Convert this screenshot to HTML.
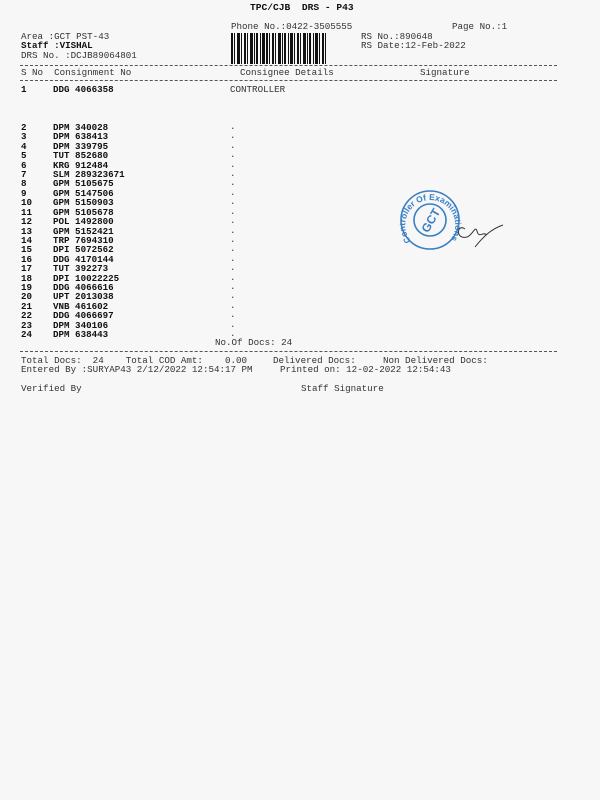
<!DOCTYPE html>
<html><head><meta charset="utf-8"><style>
body{margin:0;background:#fff}
#p{position:relative;width:600px;height:800px;background:#f7f7f7;overflow:hidden;font-family:"Liberation Mono",monospace;font-size:9.2px;color:#333}
.t{position:absolute;white-space:pre;line-height:10px}
.b{font-weight:bold;color:#111}
.d{position:absolute;left:20px;width:537px;border-top:1px dashed #555}
</style></head><body><div id="p">
<div class="t b" style="left:250px;top:3px;font-size:9.6px">TPC/CJB  DRS - P43</div>
<div class="t" style="left:231px;top:22px">Phone No.:0422-3505555</div>
<div class="t" style="left:452px;top:22px">Page No.:1</div>
<div class="t" style="left:21px;top:32px">Area :GCT PST-43</div>
<div class="t b" style="left:21px;top:41px">Staff :VISHAL</div>
<div class="t" style="left:21px;top:51px">DRS No. :DCJB89064801</div>
<div class="t" style="left:361px;top:32px">RS No.:890648</div>
<div class="t" style="left:361px;top:41px">RS Date:12-Feb-2022</div>
<svg style="position:absolute;left:231px;top:33px" width="95" height="31">
<g fill="#111">
<rect x="0" y="0" width="2" height="31"/><rect x="3" y="0" width="1" height="31"/><rect x="6" y="0" width="3" height="31"/><rect x="10" y="0" width="1" height="31"/><rect x="13" y="0" width="2" height="31"/><rect x="16" y="0" width="1" height="31"/><rect x="19" y="0" width="3" height="31"/><rect x="23" y="0" width="1" height="31"/><rect x="25" y="0" width="2" height="31"/><rect x="29" y="0" width="1" height="31"/><rect x="31" y="0" width="3" height="31"/><rect x="35" y="0" width="2" height="31"/><rect x="38" y="0" width="1" height="31"/><rect x="41" y="0" width="2" height="31"/><rect x="44" y="0" width="1" height="31"/><rect x="47" y="0" width="3" height="31"/><rect x="51" y="0" width="1" height="31"/><rect x="53" y="0" width="2" height="31"/><rect x="57" y="0" width="1" height="31"/><rect x="59" y="0" width="3" height="31"/><rect x="63" y="0" width="1" height="31"/><rect x="66" y="0" width="2" height="31"/><rect x="69" y="0" width="1" height="31"/><rect x="72" y="0" width="3" height="31"/><rect x="76" y="0" width="1" height="31"/><rect x="78" y="0" width="2" height="31"/><rect x="82" y="0" width="1" height="31"/><rect x="84" y="0" width="3" height="31"/><rect x="88" y="0" width="1" height="31"/><rect x="91" y="0" width="2" height="31"/><rect x="94" y="0" width="1" height="31"/>
</g></svg>
<div class="d" style="top:65px"></div>
<div class="t" style="left:21px;top:68px">S No  Consignment No</div>
<div class="t" style="left:240px;top:68px">Consignee Details</div>
<div class="t" style="left:420px;top:68px">Signature</div>
<div class="d" style="top:80px"></div>
<div class="t b" style="left:21px;top:85px">1</div>
<div class="t b" style="left:53px;top:85px">DDG 4066358</div>
<div class="t" style="left:230px;top:85px">CONTROLLER</div>
<div id="rows"></div>
<div class="t" style="left:215px;top:338px">No.Of Docs: 24</div>
<div class="d" style="top:351px"></div>
<div class="t" style="left:21px;top:356px">Total Docs:  24    Total COD Amt:</div>
<div class="t" style="left:225px;top:356px">0.00</div>
<div class="t" style="left:273px;top:356px">Delivered Docs:</div>
<div class="t" style="left:383px;top:356px">Non Delivered Docs:</div>
<div class="t" style="left:21px;top:365px">Entered By :SURYAP43 2/12/2022 12:54:17 PM</div>
<div class="t" style="left:280px;top:365px">Printed on: 12-02-2022 12:54:43</div>
<div class="t" style="left:21px;top:384px">Verified By</div>
<div class="t" style="left:301px;top:384px">Staff Signature</div>
<svg style="position:absolute;left:395px;top:185px" width="120" height="75">
<g fill="none" stroke="#3a7fc4" stroke-width="1.6">
<circle cx="35" cy="35" r="29"/><circle cx="35" cy="35" r="16"/>
</g>
<text x="35" y="40" fill="#3a7fc4" font-size="12" font-family="Liberation Sans" font-weight="bold" text-anchor="middle" transform="rotate(-60 35 35)">GCT</text>
<defs><path id="arc" d="M16,56 A25,25 0 1,1 56,54"/></defs>
<text fill="#3a7fc4" font-size="8.5" font-family="Liberation Sans" font-weight="bold"><textPath href="#arc">Controller Of Examinations</textPath></text>
<path d="M70,44 C62,38 60,55 72,52 C78,50 80,40 82,46 C84,54 88,46 92,50 M80,62 C88,52 96,44 108,40" stroke="#333" fill="none" stroke-width="1"/>
</svg>
<script>
var d=[["2","DPM 340028"],["3","DPM 638413"],["4","DPM 339795"],["5","TUT 852680"],["6","KRG 912484"],["7","SLM 289323671"],["8","GPM 5105675"],["9","GPM 5147506"],["10","GPM 5150903"],["11","GPM 5105678"],["12","POL 1492800"],["13","GPM 5152421"],["14","TRP 7694310"],["15","DPI 5072562"],["16","DDG 4170144"],["17","TUT 392273"],["18","DPI 10022225"],["19","DDG 4066616"],["20","UPT 2013038"],["21","VNB 461602"],["22","DDG 4066697"],["23","DPM 340106"],["24","DPM 638443"]];
var h="";d.forEach(function(r,i){var y=123+i*9.41;h+='<div class="t b" style="left:21px;top:'+y+'px">'+r[0]+'</div><div class="t b" style="left:53px;top:'+y+'px">'+r[1]+'</div><div class="t" style="left:230px;top:'+(y-1)+'px">.</div>';});
document.getElementById("rows").outerHTML=h;
</script>
</div></body></html>
